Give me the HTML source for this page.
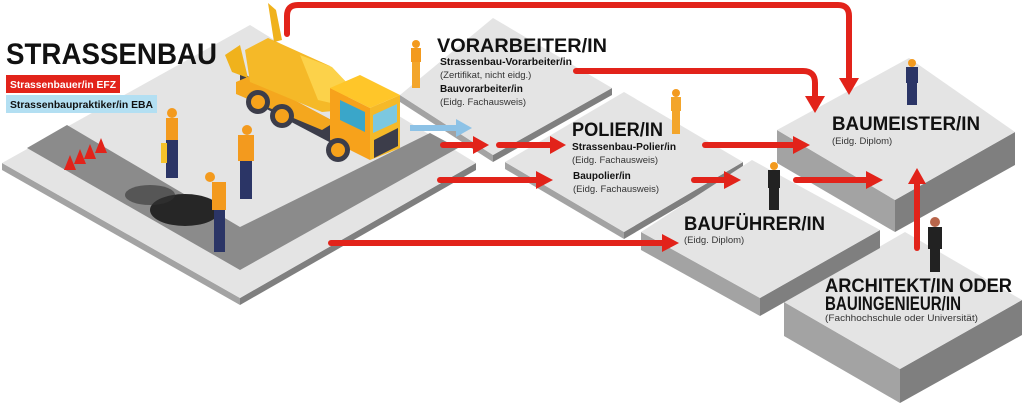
<!DOCTYPE html>
<html><head><meta charset="utf-8"><style>
html,body{margin:0;padding:0;background:#fff;width:1024px;height:405px;overflow:hidden}
svg{display:block;font-family:"Liberation Sans",Arial,sans-serif}
.t{fill:#e4e4e4}.l{fill:#a3a3a3}.r{fill:#7f7f7f}
.h{font-weight:bold;fill:#111}
.b{font-weight:bold;fill:#111;font-size:10px}
.s{fill:#333;font-size:9.5px}
.a{stroke:#e2231a;stroke-width:6;fill:none;stroke-linecap:round}
.ah{fill:#e2231a}
</style></head><body>
<svg width="1024" height="405" viewBox="0 0 1024 405">
<!-- main platform -->
<polygon class="l" points="2,163 240,298 240,305 2,170"/>
<polygon class="r" points="240,298 476,163 476,170 240,305"/>
<polygon class="t" points="2,163 250,25 476,163 240,298"/>
<polygon fill="#8b8b8b" points="67,125 27,148 240,270 458,148 430,133 240,227"/>
<!-- vorarbeiter -->
<polygon class="l" points="400,95 493,155 493,162 400,102"/>
<polygon class="r" points="493,155 612,88 612,95 493,162"/>
<polygon class="t" points="400,95 493,18 612,88 493,155"/>
<!-- polier -->
<polygon class="l" points="505,162 624,232 624,239 505,169"/>
<polygon class="r" points="624,232 743,162 743,169 624,239"/>
<polygon class="t" points="505,162 624,92 743,162 624,232"/>
<!-- baumeister -->
<polygon class="l" points="777,130 895,200 895,232 777,163"/>
<polygon class="r" points="895,200 1015,132 1015,165 895,232"/>
<polygon class="t" points="777,130 909,58 1015,132 895,200"/>
<!-- architekt -->
<polygon class="l" points="784,302 900,369 900,403 784,336"/>
<polygon class="r" points="900,369 1022,300 1022,335 900,403"/>
<polygon class="t" points="784,302 905,232 1022,300 900,369"/>
<!-- baufuehrer -->
<polygon class="l" points="641,232 760,298 760,316 641,250"/>
<polygon class="r" points="760,298 880,230 880,248 760,316"/>
<polygon class="t" points="641,232 752,160 880,230 760,298"/>

<!-- truck -->
<polygon fill="#3c3d4a" points="240,72 335,122 335,145 240,95"/>
<polygon fill="#f4a71e" points="236,82 250,76 335,122 322,130 236,94"/>
<polygon fill="#f0b21c" points="225,55 240,45 248,78 232,72"/>
<polygon fill="#f5b928" points="245,50 268,38 330,66 350,86 345,110 322,112 250,82"/>
<polygon fill="#fcd24a" points="300,55 332,67 350,86 344,106 318,100"/>
<polygon fill="#f0b21c" points="268,3 276,10 282,40 274,42"/>
<polygon fill="#f7a21b" points="330,88 370,108 370,160 330,140"/>
<polygon fill="#f5b928" points="370,108 400,95 400,148 370,160"/>
<polygon fill="#ffc629" points="330,88 360,75 400,95 370,108"/>
<polygon fill="#3aa6c9" points="340,100 365,112 365,132 340,120"/>
<polygon fill="#7cc8e0" points="373,115 397,104 397,122 373,133"/>
<polygon fill="#3c3d4a" points="374,140 398,128 398,146 374,158"/>
<circle cx="258" cy="102" r="12" fill="#3c3d4a"/><circle cx="258" cy="102" r="7" fill="#f7a21b"/>
<circle cx="282" cy="116" r="12" fill="#3c3d4a"/><circle cx="282" cy="116" r="7" fill="#f7a21b"/>
<circle cx="338" cy="150" r="12" fill="#3c3d4a"/><circle cx="338" cy="150" r="7" fill="#f7a21b"/>

<!-- cones -->
<g fill="#e2231a"><polygon points="70,155 64,170 76,170"/><polygon points="80,149 74,164 86,164"/><polygon points="90,144 84,159 96,159"/><polygon points="101,138 95,153 107,153"/></g>
<!-- asphalt pile -->
<ellipse cx="185" cy="210" rx="35" ry="16" fill="#262626"/>
<ellipse cx="150" cy="195" rx="25" ry="10" fill="#333" opacity=".6"/>
<!-- workers -->
<g><circle cx="172" cy="113" r="5" fill="#f39a1e"/><rect x="166" y="118" width="12" height="22" fill="#f39a1e"/><rect x="166" y="140" width="12" height="38" fill="#2b3566"/><rect x="161" y="143" width="6" height="20" fill="#f6c22a"/></g>
<g><circle cx="247" cy="130" r="5" fill="#f39a1e"/><rect x="238" y="135" width="16" height="26" fill="#f39a1e"/><rect x="240" y="161" width="12" height="38" fill="#2b3566"/></g>
<g><circle cx="210" cy="177" r="5" fill="#f39a1e"/><rect x="212" y="182" width="14" height="28" fill="#f39a1e"/><rect x="214" y="210" width="11" height="42" fill="#2b3566"/></g>
<g><circle cx="416" cy="44" r="4" fill="#f39a1e"/><rect x="411" y="48" width="10" height="14" fill="#f39a1e"/><rect x="412" y="62" width="8" height="26" fill="#f3a52b"/></g>
<g><circle cx="676" cy="93" r="4" fill="#f39a1e"/><rect x="671" y="97" width="10" height="14" fill="#f3a52b"/><rect x="672" y="111" width="8" height="23" fill="#f3a52b"/></g>
<g><circle cx="774" cy="166" r="4" fill="#f39a1e"/><rect x="768" y="170" width="12" height="18" fill="#222"/><rect x="769" y="188" width="10" height="22" fill="#222"/></g>
<g><circle cx="912" cy="63" r="4" fill="#f39a1e"/><rect x="906" y="67" width="12" height="16" fill="#2b3566"/><rect x="907" y="83" width="10" height="22" fill="#2b3566"/></g>
<g><circle cx="935" cy="222" r="5" fill="#b8654a"/><rect x="928" y="227" width="14" height="22" fill="#222"/><rect x="930" y="249" width="10" height="23" fill="#222"/></g>

<!-- arrows -->
<path class="a" d="M287,34 V16 Q287,5 298,5 H838 Q849,5 849,16 V80"/>
<polygon class="ah" points="839,78 859,78 849,95"/>
<path class="a" d="M576,71 H803 Q815,71 815,83 V98"/>
<polygon class="ah" points="805,96 825,96 815,113"/>
<path d="M410,128 H458" stroke="#8dc2e6" stroke-width="6"/><polygon fill="#8dc2e6" points="456,119 472,128 456,137"/>
<path class="a" d="M443,145 H475"/><polygon class="ah" points="473,136 489,145 473,154"/>
<path class="a" d="M499,145 H552"/><polygon class="ah" points="550,136 566,145 550,154"/>
<path class="a" d="M440,180 H538"/><polygon class="ah" points="536,171 553,180 536,189"/>
<path class="a" d="M331,243 H664"/><polygon class="ah" points="662,234 679,243 662,252"/>
<path class="a" d="M705,145 H795"/><polygon class="ah" points="793,136 810,145 793,154"/>
<path class="a" d="M694,180 H726"/><polygon class="ah" points="724,171 741,180 724,189"/>
<path class="a" d="M796,180 H868"/><polygon class="ah" points="866,171 883,180 866,189"/>
<path class="a" d="M917,248 V182"/><polygon class="ah" points="908,184 917,168 926,184"/>

<!-- texts -->
<text x="6" y="64" class="h" font-size="30" textLength="211" lengthAdjust="spacingAndGlyphs">STRASSENBAU</text>
<rect x="6" y="75" width="114" height="18" fill="#e2231a"/>
<text x="10" y="88" font-size="10.5" font-weight="bold" fill="#fff" textLength="106" lengthAdjust="spacingAndGlyphs">Strassenbauer/in EFZ</text>
<rect x="6" y="95" width="151" height="18" fill="#b3dff2"/>
<text x="10" y="108" font-size="10.5" font-weight="bold" fill="#111" textLength="143" lengthAdjust="spacingAndGlyphs">Strassenbaupraktiker/in EBA</text>

<text x="437" y="52" class="h" font-size="19" textLength="170" lengthAdjust="spacingAndGlyphs">VORARBEITER/IN</text>
<text x="440" y="65" class="b" textLength="132" lengthAdjust="spacingAndGlyphs">Strassenbau-Vorarbeiter/in</text>
<text x="440" y="78" class="s">(Zertifikat, nicht eidg.)</text>
<text x="440" y="92" class="b">Bauvorarbeiter/in</text>
<text x="440" y="105" class="s">(Eidg. Fachausweis)</text>

<text x="572" y="136" class="h" font-size="19" textLength="91" lengthAdjust="spacingAndGlyphs">POLIER/IN</text>
<text x="572" y="150" class="b" textLength="104" lengthAdjust="spacingAndGlyphs">Strassenbau-Polier/in</text>
<text x="572" y="163" class="s">(Eidg. Fachausweis)</text>
<text x="573" y="179" class="b">Baupolier/in</text>
<text x="573" y="192" class="s">(Eidg. Fachausweis)</text>

<text x="832" y="130" class="h" font-size="19" textLength="148" lengthAdjust="spacingAndGlyphs">BAUMEISTER/IN</text>
<text x="832" y="144" class="s">(Eidg. Diplom)</text>

<text x="684" y="230" class="h" font-size="19" textLength="141" lengthAdjust="spacingAndGlyphs">BAUFÜHRER/IN</text>
<text x="684" y="243" class="s">(Eidg. Diplom)</text>

<text x="825" y="292" class="h" font-size="19" textLength="187" lengthAdjust="spacingAndGlyphs">ARCHITEKT/IN ODER</text>
<text x="825" y="310" class="h" font-size="19" textLength="136" lengthAdjust="spacingAndGlyphs">BAUINGENIEUR/IN</text>
<text x="825" y="321" class="s" textLength="153" lengthAdjust="spacingAndGlyphs">(Fachhochschule oder Universität)</text>
</svg>
</body></html>
